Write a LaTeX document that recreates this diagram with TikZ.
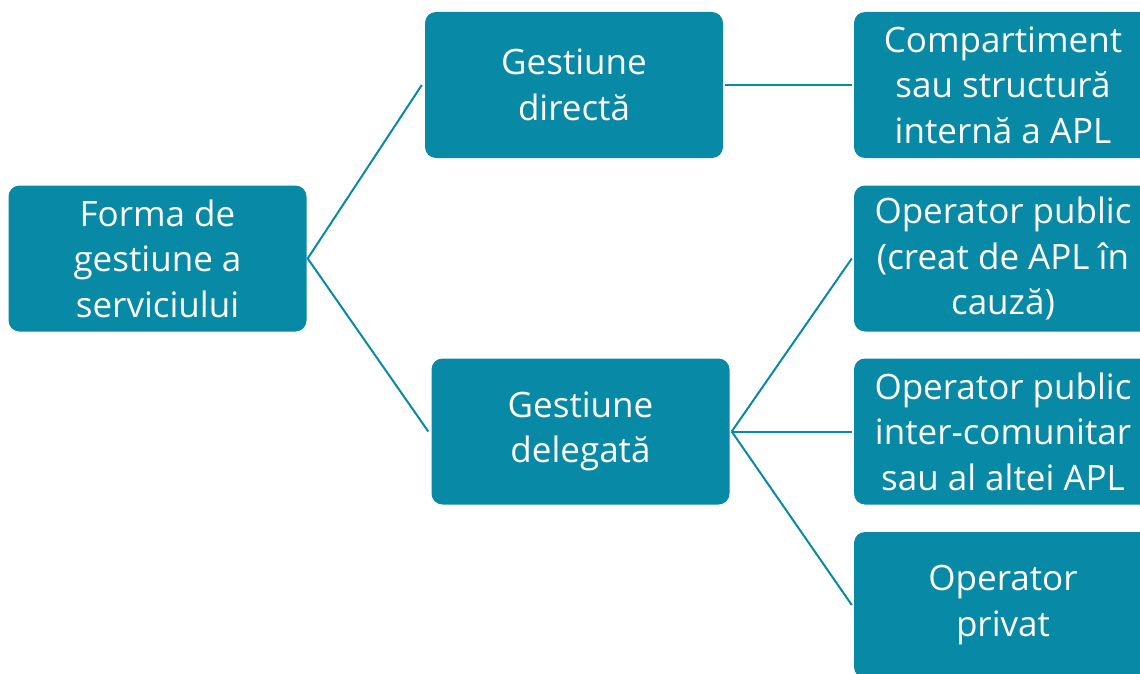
\documentclass[tikz,border=0pt]{standalone}
\usepackage{fontspec}
\setmainfont{Open Sans}
\definecolor{teal}{RGB}{8,137,165}
\begin{document}
\begin{tikzpicture}[x=1pt,y=-1pt,
  box/.style={fill=teal, rounded corners=11pt, minimum width=298pt, minimum height=146pt,
    inner sep=0pt, text=white, align=center,
    font=\fontsize{35}{45.5}\selectfont},
  link/.style={draw=teal, line width=2pt}]
\useasboundingbox (0,0) rectangle (1140,674);
\node[box] (root) at (157.5,258.5) {Forma de\\gestiune a\\serviciului};
\node[box] (dir) at (574,85) {Gestiune\\directă};
\node[box] (del) at (580.5,431.5) {Gestiune\\delegată};
\node[box] (r1) at (1003,85) {Compartiment\\sau structură\\internă a APL};
\node[box] (r2) at (1003,258.5) {Operator public\\(creat de APL în\\cauză)};
\node[box] (r3) at (1003,431.5) {Operator public\\inter-comunitar\\sau al altei APL};
\node[box] (r4) at (1003,605) {Operator\\privat};
\coordinate (rootpt) at ([xshift=1pt]root.east);
\coordinate (delpt) at ([xshift=2pt]del.east);
\draw[link] ([xshift=-3pt]dir.west) -- (rootpt) -- ([xshift=-3pt]del.west);
\draw[link] ([xshift=2pt]dir.east) -- ([xshift=-2pt]r1.west);
\draw[link] (delpt) -- ([xshift=-2pt]r2.west);
\draw[link] (delpt) -- ([xshift=-2pt]r3.west);
\draw[link] (delpt) -- ([xshift=-2pt]r4.west);
\end{tikzpicture}
\end{document}
